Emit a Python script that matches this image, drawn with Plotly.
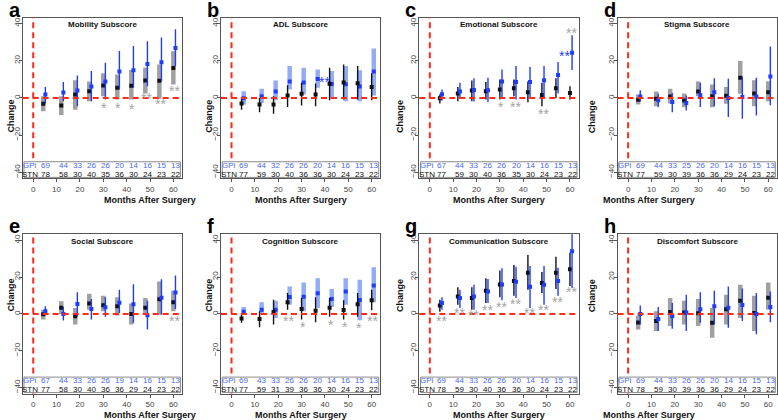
import plotly.graph_objects as go

# ---------------- data ----------------
MONTHS = [4.3, 12, 18, 24, 30, 36, 42, 48, 54, 60]
PANEL_LETTERS = ["a", "b", "c", "d", "e", "f", "g", "h"]
PANEL_TITLES = ["Mobility Subscore", "ADL Subscore", "Emotional Subscore", "Stigma Subscore",
                "Social Subscore", "Cognition Subscore", "Communication Subscore", "Discomfort Subscore"]
X_TICKS = [0, 10, 20, 30, 40, 50, 60]
Y_TICKS = [-40, -20, 0, 20, 40]

# (a) Mobility
MOB_STN = [-3.1, -4.1, 1.8, 3.6, 6.7, 5.4, 6.5, 9.4, 9.2, 16.0]
MOB_STN_LO = [-7.2, -9.2, -6.3, -1.8, 0.9, -0.9, -0.9, 2.3, -0.5, 7.2]
MOB_STN_HI = [0.9, 0.9, 9.5, 8.8, 13.2, 12.6, 15.0, 16.4, 18.0, 25.0]
MOB_GPI = [1.8, 2.9, 4.0, 6.1, 8.8, 14.2, 14.8, 18.2, 19.1, 26.8]
MOB_GPI_LO = [-3.0, -1.8, -4.5, -1.8, -0.9, 4.5, 5.4, 6.3, 9.0, 17.1]
MOB_GPI_HI = [5.9, 8.6, 12.0, 14.4, 18.9, 25.2, 27.9, 30.4, 32.4, 36.9]
# (b) ADL
ADL_STN = [-3.0, -3.6, -3.6, 1.3, 2.2, 1.8, 7.6, 8.3, 7.9, 5.9]
ADL_STN_LO = [-6.3, -7.7, -8.5, -4.9, -4.1, -4.5, -1.3, -0.9, -0.9, -1.3]
ADL_STN_HI = [0.4, 0.0, 0.9, 6.8, 8.1, 7.7, 16.2, 18.0, 17.1, 13.2]
ADL_GPI = [-0.2, 0.9, 3.5, 8.8, 8.3, 10.2, 7.5, 7.4, 6.1, 14.2]
ADL_GPI_LO = [-3.6, -2.7, -1.3, 4.5, 1.8, 5.4, 0.0, -1.8, -1.8, 1.3]
ADL_GPI_HI = [3.6, 4.9, 9.4, 17.1, 16.2, 15.3, 14.4, 17.1, 14.8, 26.5]
# (c) Emotional
EMO_STN = [-0.2, 2.3, 4.0, 3.6, 4.5, 5.2, 3.0, 1.5, 5.2, 2.6]
EMO_STN_LO = [-3.0, -1.8, -1.8, -0.9, -0.9, 0.9, -2.3, -4.5, 0.0, -0.9]
EMO_STN_HI = [1.8, 5.9, 9.4, 8.5, 9.9, 9.9, 8.8, 8.1, 10.5, 6.3]
EMO_GPI = [2.0, 3.5, 4.3, 4.1, 8.8, 8.5, 8.5, 9.5, 12.3, 24.3]
EMO_GPI_LO = [-1.4, -0.5, -2.0, -2.2, 0.0, -0.9, 0.0, 0.0, 2.3, 15.0]
EMO_GPI_HI = [4.5, 8.1, 10.5, 10.8, 15.3, 17.1, 16.6, 17.1, 19.3, 33.7]
# (d) Stigma
STI_STN = [-1.0, -0.4, 0.7, -1.4, 3.4, 0.9, 1.2, 10.8, 2.3, 3.1]
STI_STN_LO = [-3.6, -4.5, -3.0, -5.0, 0.9, -5.0, -3.2, 2.2, -4.5, -1.8]
STI_STN_HI = [1.8, 3.4, 4.9, 2.3, 8.8, 7.2, 5.9, 19.8, 9.5, 9.0]
STI_GPI = [0.8, -1.3, -2.2, -2.7, 1.4, 3.1, 0.0, 0.5, 0.7, 11.5]
STI_GPI_LO = [-2.0, -4.9, -7.7, -6.8, -4.9, -4.5, -10.3, -11.2, -9.4, -4.0]
STI_GPI_HI = [4.1, 2.2, 2.7, 1.3, 8.1, 10.6, 10.3, 11.4, 10.8, 27.6]
# (e) Social
SOC_STN = [-0.2, 3.4, -1.3, 5.6, 4.7, 4.1, 0.0, 3.3, 8.0, 6.3]
SOC_STN_LO = [-3.0, 0.0, -5.7, 2.3, 1.4, -0.9, -5.7, 0.2, -0.4, 1.4]
SOC_STN_HI = [2.3, 6.8, 3.2, 10.9, 9.9, 9.1, 5.6, 8.6, 17.6, 12.6]
SOC_GPI = [1.4, 0.0, 5.4, 2.7, 3.6, 6.1, 5.2, -0.7, 8.7, 11.6]
SOC_GPI_LO = [-0.9, -3.6, -1.3, -3.0, -1.6, 0.5, -4.8, -8.4, -0.4, 2.7]
SOC_GPI_HI = [4.1, 3.8, 11.7, 8.1, 9.1, 13.1, 16.1, 7.2, 18.8, 20.8]
# (f) Cognition
COG_STN = [-2.5, -2.8, 1.0, 6.3, 2.6, 1.7, 3.4, 2.1, 5.3, 7.4]
COG_STN_LO = [-4.8, -7.2, -5.7, 2.3, -3.0, -4.5, -1.6, -3.0, -1.6, 2.0]
COG_STN_HI = [0.5, 1.4, 7.7, 11.3, 8.6, 9.1, 8.6, 7.4, 11.3, 13.1]
COG_GPI = [1.2, 2.3, 2.3, 9.2, 9.3, 11.2, 8.1, 12.1, 7.5, 15.4]
COG_GPI_LO = [0.0, -0.4, -2.2, 5.0, 1.4, 3.2, 3.8, 5.0, -3.4, 6.3]
COG_GPI_HI = [3.8, 6.3, 7.2, 14.9, 17.0, 19.4, 13.5, 19.4, 18.5, 25.3]
# (g) Communication
COM_STN = [4.5, 9.5, 8.6, 12.6, 16.0, 17.8, 22.3, 16.8, 22.3, 24.3]
COM_STN_LO = [1.1, 5.0, 2.3, 5.9, 9.1, 9.9, 13.1, 11.3, 13.5, 15.2]
COM_STN_HI = [7.7, 14.5, 14.5, 19.4, 23.5, 26.5, 31.9, 22.8, 31.0, 33.2]
COM_GPI = [5.9, 8.6, 9.5, 12.2, 16.0, 17.4, 14.8, 15.8, 17.8, 34.0]
COM_GPI_LO = [2.3, 3.2, 2.3, 5.9, 7.4, 8.6, 3.2, 5.0, 9.9, 14.0]
COM_GPI_HI = [9.1, 13.1, 15.8, 19.0, 24.8, 25.6, 26.0, 26.0, 25.1, 43.6]
# (h) Discomfort
DIS_STN = [-4.7, -3.8, 1.0, 0.8, 0.4, -4.8, 2.5, 7.1, 0.5, 8.8]
DIS_STN_LO = [-8.4, -9.3, -6.6, -5.7, -6.6, -12.9, -5.7, -2.2, -9.3, 2.3]
DIS_STN_HI = [-0.9, 1.4, 8.6, 7.2, 8.1, 3.2, 10.4, 15.8, 9.9, 17.0]
DIS_GPI = [0.0, -2.7, -1.3, 0.7, 2.5, 4.1, 3.4, 4.8, 0.0, 3.8]
DIS_GPI_LO = [-5.7, -9.3, -8.1, -9.3, -4.8, -5.7, -7.5, -3.9, -11.1, -4.5]
DIS_GPI_HI = [4.5, 3.8, 5.9, 10.4, 11.8, 12.6, 14.9, 13.8, 11.3, 12.2]

# number of patients
MOB_N_GPI = [69, 44, 33, 26, 26, 20, 14, 16, 15, 13]
MOB_N_STN = [78, 58, 30, 40, 35, 36, 30, 24, 23, 22]
ADL_N_GPI = [69, 44, 32, 26, 26, 20, 14, 16, 15, 13]
ADL_N_STN = [77, 59, 30, 40, 36, 36, 30, 24, 23, 22]
EMO_N_GPI = [67, 44, 33, 26, 26, 20, 14, 16, 15, 13]
EMO_N_STN = [77, 59, 30, 40, 36, 35, 30, 24, 23, 22]
STI_N_GPI = [69, 44, 33, 25, 26, 20, 14, 16, 15, 13]
STI_N_STN = [77, 59, 30, 39, 36, 36, 29, 24, 23, 22]
SOC_N_GPI = [67, 44, 33, 26, 26, 19, 14, 16, 15, 13]
SOC_N_STN = [77, 58, 30, 40, 36, 36, 29, 24, 23, 22]
COG_N_GPI = [69, 43, 33, 26, 26, 20, 14, 16, 15, 13]
COG_N_STN = [77, 59, 31, 39, 36, 36, 30, 24, 23, 22]
COM_N_GPI = [69, 44, 33, 26, 26, 20, 14, 16, 15, 13]
COM_N_STN = [78, 59, 30, 40, 36, 36, 30, 24, 23, 22]
DIS_N_GPI = [69, 44, 33, 26, 26, 20, 14, 16, 15, 13]
DIS_N_STN = [78, 59, 30, 39, 36, 36, 29, 24, 23, 22]

# significance markers: x, y, label
MOB_SIG_X = [30.5, 36.5, 42.5, 48.5, 54.5, 60.5]
MOB_SIG_Y = [-3.3, -3.5, -4.0, 2.0, -1.5, 5.5]
MOB_SIG = ["*", "*", "*", "**", "**", "**"]
ADL_SIG_X = [39.6]
ADL_SIG_Y = [10.2]
ADL_SIG = ["**"]
EMO_SIG_X = [30.5, 36.5, 48.5, 57.8, 60.7]
EMO_SIG_Y = [-3.0, -3.0, -6.8, 24.4, 37.0]
EMO_SIG = ["*", "**", "**", "**", "**"]
STI_SIG_X, STI_SIG_Y, STI_SIG = [], [], []
SOC_SIG_X = [60.5]
SOC_SIG_Y = [-1.8]
SOC_SIG = ["**"]
COG_SIG_X = [24.5, 30.5, 42.5, 48.5, 54.5, 60.5]
COG_SIG_Y = [-2.0, -5.0, -4.2, -5.0, -5.5, -2.0]
COG_SIG = ["**", "*", "*", "*", "*", "**"]
COM_SIG_X = [4.8, 12.5, 18.5, 24.5, 30.5, 36.5, 42.5, 48.5, 54.5, 60.5]
COM_SIG_Y = [-2.2, 2.5, 1.4, 3.8, 5.4, 7.4, 2.3, 4.1, 8.6, 13.8]
COM_SIG = ["**"] * 10
DIS_SIG_X, DIS_SIG_Y, DIS_SIG = [], [], []
# which significance markers are GPi-coloured (blue)
ADL_SIG_BLUE = [True]
EMO_SIG_BLUE = [False, False, False, True, False]

# ---------------- style ----------------
FONT = "Liberation Sans, Arial, Helvetica, sans-serif"
BLUE = "#1e3cff"
BLUE_TXT = "#4a68f0"
BLUE_THICK = "rgba(110,145,240,0.75)"
GREY_THICK = "#a0a0a0"
BLACK = "#111111"
RED = "#ff2a1a"
SIG_GREY = "#a3a3a3"
AXIS = "#555555"
DODGE = 0.9
W, H = 778, 420
COL_X0 = 22.7
COL_W = 159.3
COL_STEP = 198.3
ROWS_PX = [(17.5, 178.3), (234.3, 393.5)]
XR = [-4.5, 63.7]
YR = [-43.2, 43.2]
THICK = ["stn", "gpi", None, "stn", "stn", "gpi", None, "stn"]

panels = [
    (MOB_STN, MOB_STN_LO, MOB_STN_HI, MOB_GPI, MOB_GPI_LO, MOB_GPI_HI, MOB_N_GPI, MOB_N_STN, MOB_SIG_X, MOB_SIG_Y, MOB_SIG, None),
    (ADL_STN, ADL_STN_LO, ADL_STN_HI, ADL_GPI, ADL_GPI_LO, ADL_GPI_HI, ADL_N_GPI, ADL_N_STN, ADL_SIG_X, ADL_SIG_Y, ADL_SIG, ADL_SIG_BLUE),
    (EMO_STN, EMO_STN_LO, EMO_STN_HI, EMO_GPI, EMO_GPI_LO, EMO_GPI_HI, EMO_N_GPI, EMO_N_STN, EMO_SIG_X, EMO_SIG_Y, EMO_SIG, EMO_SIG_BLUE),
    (STI_STN, STI_STN_LO, STI_STN_HI, STI_GPI, STI_GPI_LO, STI_GPI_HI, STI_N_GPI, STI_N_STN, STI_SIG_X, STI_SIG_Y, STI_SIG, None),
    (SOC_STN, SOC_STN_LO, SOC_STN_HI, SOC_GPI, SOC_GPI_LO, SOC_GPI_HI, SOC_N_GPI, SOC_N_STN, SOC_SIG_X, SOC_SIG_Y, SOC_SIG, None),
    (COG_STN, COG_STN_LO, COG_STN_HI, COG_GPI, COG_GPI_LO, COG_GPI_HI, COG_N_GPI, COG_N_STN, COG_SIG_X, COG_SIG_Y, COG_SIG, None),
    (COM_STN, COM_STN_LO, COM_STN_HI, COM_GPI, COM_GPI_LO, COM_GPI_HI, COM_N_GPI, COM_N_STN, COM_SIG_X, COM_SIG_Y, COM_SIG, None),
    (DIS_STN, DIS_STN_LO, DIS_STN_HI, DIS_GPI, DIS_GPI_LO, DIS_GPI_HI, DIS_N_GPI, DIS_N_STN, DIS_SIG_X, DIS_SIG_Y, DIS_SIG, None),
]

fig = go.Figure()
layout = dict(width=W, height=H, margin=dict(l=0, r=0, t=0, b=0),
              paper_bgcolor="white", plot_bgcolor="white", showlegend=False,
              font=dict(family=FONT, size=8, color="#333"))
annotations = []
shapes = []

for i, p in enumerate(panels):
    (s_m, s_lo, s_hi, g_m, g_lo, g_hi, n_g, n_s, sx, sy, stxt, sblue) = p
    row, col = divmod(i, 4)
    sfx = "" if i == 0 else str(i + 1)
    xa, ya = "x" + sfx, "y" + sfx
    left = COL_X0 + col * COL_STEP
    right = left + COL_W
    top, bot = ROWS_PX[row]
    layout["xaxis" + sfx] = dict(
        domain=[left / W, right / W], range=XR, anchor=ya,
        tickvals=X_TICKS, ticks="outside", ticklen=3, tickcolor=AXIS,
        showline=True, mirror=True, linecolor=AXIS, linewidth=1,
        showgrid=False, zeroline=False, tickfont=dict(size=8, color="#444"))
    layout["yaxis" + sfx] = dict(
        domain=[1 - bot / H, 1 - top / H], range=YR, anchor=xa,
        tickvals=Y_TICKS, ticks="outside", ticklen=3, tickcolor=AXIS, tickangle=-90,
        ticklabelstandoff=-4,
        showline=True, mirror=True, linecolor=AXIS, linewidth=1,
        showgrid=False, zeroline=False, tickfont=dict(size=8, color="#444"))

    series = [("stn", s_m, s_lo, s_hi, 0.0, BLACK, GREY_THICK),
              ("gpi", g_m, g_lo, g_hi, DODGE, BLUE, BLUE_THICK)]
    if THICK[i] == "gpi":
        series = series[::-1]
    for name, m, lo, hi, off, col_pt, col_thick in series:
        thick = THICK[i] == name
        fig.add_trace(go.Scatter(
            x=[t + off for t in MONTHS], y=m, mode="markers",
            marker=dict(symbol="square", size=4, color=col_pt),
            error_y=dict(type="data", symmetric=False,
                         array=[h - v for h, v in zip(hi, m)],
                         arrayminus=[v - l for v, l in zip(m, lo)],
                         color=col_thick if thick else col_pt,
                         thickness=4.5 if thick else 1.4, width=0),
            xaxis=xa, yaxis=ya, hoverinfo="skip", cliponaxis=True))

    # reference lines
    shapes.append(dict(type="line", xref=xa + " domain", yref=ya, x0=0, x1=1, y0=0, y1=0,
                       line=dict(color=RED, width=2, dash="6px,4px"), layer="above"))
    shapes.append(dict(type="line", xref=xa, yref=ya + " domain", x0=0, x1=0, y0=0, y1=1,
                       line=dict(color=RED, width=2, dash="6px,4px"), layer="above"))
    # table box
    shapes.append(dict(type="rect", xref=xa + " domain", yref=ya, x0=0.008, x1=0.99,
                       y0=-42.7, y1=-34.3, fillcolor="white",
                       line=dict(color="#8a8a8a", width=1), layer="above"))
    annotations.append(dict(xref=xa, yref=ya, x=-1.2, y=-36.4, text="GPi", showarrow=False,
                            font=dict(size=8, color=BLUE_TXT)))
    annotations.append(dict(xref=xa, yref=ya, x=-1.2, y=-40.9, text="STN", showarrow=False,
                            font=dict(size=8, color=BLACK)))
    for t, ng, ns in zip(MONTHS, n_g, n_s):
        annotations.append(dict(xref=xa, yref=ya, x=t + DODGE, y=-36.4, text=str(ng),
                                showarrow=False, font=dict(size=8, color=BLUE_TXT)))
        annotations.append(dict(xref=xa, yref=ya, x=t + DODGE, y=-40.9, text=str(ns),
                                showarrow=False, font=dict(size=8, color=BLACK)))
    # significance markers
    for k, (x, y, t) in enumerate(zip(sx, sy, stxt)):
        blue = sblue[k] if sblue else False
        annotations.append(dict(xref=xa, yref=ya, x=x, y=y, text=t, showarrow=False,
                                yshift=-3.5,
                                font=dict(size=14, color=BLUE if blue else SIG_GREY)))
    # titles
    annotations.append(dict(xref=xa + " domain", yref=ya + " domain", x=0.5, y=1 - 7.5 / (bot - top),
                            text="<b>%s</b>" % PANEL_TITLES[i], showarrow=False, yanchor="middle",
                            font=dict(size=8, color="#111")))
    annotations.append(dict(xref="paper", yref="paper", x=(left - 16) / W, y=1 - (top - 8) / H,
                            text="<b>%s</b>" % PANEL_LETTERS[i], showarrow=False,
                            xanchor="left", yanchor="middle", font=dict(size=20, color="#000")))
    annotations.append(dict(xref="paper", yref="paper", x=(left - 18.7) / W, y=1 - (top + bot) / 2 / H,
                            text="<b>Change</b>", textangle=-90, showarrow=False,
                            font=dict(size=9, color="#111")))
    annotations.append(dict(xref="paper", yref="paper", x=(left + right) / 2 / W, y=1 - (bot + 21.5) / H,
                            text="<b>Months After Surgery</b>", showarrow=False, yanchor="middle",
                            font=dict(size=9, color="#111")))

layout["annotations"] = annotations
layout["shapes"] = shapes
fig.update_layout(**layout)
fig.write_html("out.html", config={"displayModeBar": False},
               post_script="document.body.style.margin='0px';document.body.style.overflow='hidden';")
